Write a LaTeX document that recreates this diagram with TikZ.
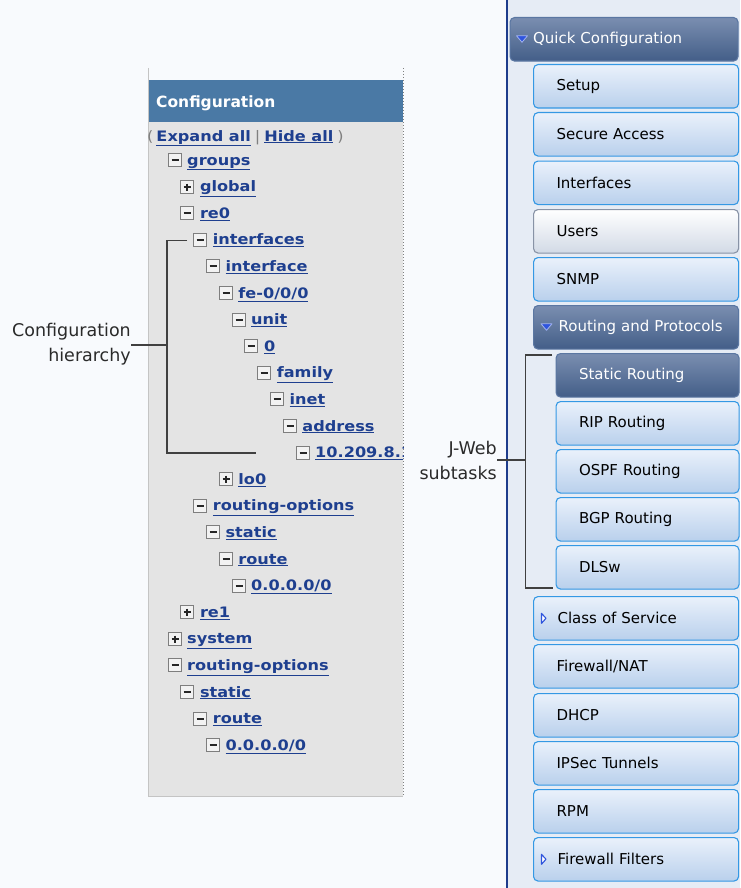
\documentclass[tikz,border=0pt]{standalone}
\usepackage{fontspec}
\setmainfont{DejaVu Sans}
\newfontfamily\treefont[FakeStretch=1.12]{DejaVu Sans}
\usetikzlibrary{calc}
\definecolor{pagebg}{HTML}{F8FAFD}
\definecolor{rightbg}{HTML}{E6ECF5}
\definecolor{navline}{HTML}{1E3C8C}
\definecolor{panelbg}{HTML}{E4E4E4}
\definecolor{panelline}{HTML}{C4C4C4}
\definecolor{headbg}{HTML}{4A79A5}
\definecolor{linkblue}{HTML}{1E3F8F}
\definecolor{icoedge}{HTML}{7E7E7E}
\definecolor{icofill}{HTML}{F2F2F2}
\definecolor{ltop}{HTML}{EAF1FB}
\definecolor{lbot}{HTML}{B9D0EC}
\definecolor{ledge}{HTML}{3498E4}
\definecolor{dtop}{HTML}{7A8EB0}
\definecolor{dbot}{HTML}{435E88}
\definecolor{dedge}{HTML}{5B77A2}
\definecolor{ubot}{HTML}{D2DAE6}
\definecolor{uedge}{HTML}{8893A6}
\definecolor{brk}{HTML}{404040}
\definecolor{lbltext}{HTML}{2A2A2A}
\definecolor{tri}{HTML}{2F55DD}
\newcommand{\btnfont}{\fontsize{15}{18}\selectfont\hyphenpenalty=10000 }
\newcommand{\lblfont}{\fontsize{17.5}{25}\selectfont}
\newcommand{\tfont}{\treefont\bfseries\fontsize{14.4}{16}\selectfont}
\newlength{\btnpad}
\setlength{\btnpad}{23pt}
\begin{document}
\begin{tikzpicture}[x=1pt,y=-1pt,
  pad/.code={\setlength{\btnpad}{#1}},
  btn/.style={anchor=north west, rounded corners=4.5pt, line width=1.1pt,
    minimum height=43.5pt, inner xsep=0pt, inner ysep=0pt, align=left,
    font=\btnfont, text width=205pt,
    execute at begin node={\hspace*{\btnpad}}},
  wide/.style={text width=228pt},
  narrow/.style={text width=183pt},
  light/.style={btn, draw=ledge, top color=ltop, bottom color=lbot},
  dark/.style={btn, draw=dedge, top color=dtop, bottom color=dbot, text=white},
  plain/.style={btn, draw=uedge, top color=white, bottom color=ubot},
  icobase/.style={draw=icoedge, fill=icofill, line width=1pt, minimum size=12.5pt, inner sep=0pt},
  icom/.style={icobase, path picture={\draw[line width=1.7pt, black!85]
      (path picture bounding box.center) ++(-3.5,0) -- ++(7,0);}},
  icop/.style={icobase, path picture={\draw[line width=1.7pt, black!85]
      (path picture bounding box.center) ++(-3.5,0) -- ++(7,0)
      (path picture bounding box.center) ++(0,-3.5) -- ++(0,7);}},
  item/.style={anchor=base west, inner sep=0pt, text=linkblue, font=\tfont},
  lbl/.style={anchor=east, inner sep=0pt, align=right, text=lbltext, font=\lblfont},
  bracket/.style={draw=brk, line width=1.3pt},
  trifill/.style={fill=tri, draw=white!55!tri, line width=0.8pt, line join=round}
]
\useasboundingbox (0,0) rectangle (740,888);
% backgrounds
\fill[pagebg] (0,0) rectangle (740,888);
\fill[rightbg] (507,0) rectangle (740,888);
\draw[navline, line width=1.8pt] (507,0) -- (507,888);

% configuration panel
\fill[panelbg] (148,80) rectangle (403,796);
\fill[headbg] (148,80) rectangle (403,122);
\draw[panelline, line width=1pt] (148,68) -- (148,796) -- (403,796);
\draw[gray, line width=1pt, dotted] (403,68) -- (403,796);
\node[anchor=base west, inner sep=0pt, text=white, font=\bfseries\fontsize{15.5}{18}\selectfont] (head) at (156,107) {Configuration};

\begin{scope}
\clip (148,80) rectangle (403,796);
\node[anchor=base west, inner sep=0pt, text=linkblue, font=\tfont] (expand) at (147,141)
  {{\mdseries\color{gray}(}\hspace{3pt}\underline{Expand all}\hspace{4pt}{\mdseries\color{gray}|}\hspace{4pt}\underline{Hide all}\hspace{4pt}{\mdseries\color{gray})}};
\foreach \lv/\sg/\txt/\i in {0/icom/groups/0, 1/icop/global/1, 1/icom/re0/2,
  2/icom/interfaces/3, 3/icom/interface/4, 4/icom/{fe-0/0/0}/5, 5/icom/unit/6,
  6/icom/0/7, 7/icom/family/8, 8/icom/inet/9, 9/icom/address/10,
  10/icom/10.209.8.1/11, 4/icop/lo0/12, 2/icom/routing-options/13,
  3/icom/static/14, 4/icom/route/15, 5/icom/{0.0.0.0/0}/16, 1/icop/re1/17,
  0/icop/system/18, 0/icom/routing-options/19, 1/icom/static/20,
  2/icom/route/21, 3/icom/{0.0.0.0/0}/22}{
  \pgfmathsetmacro{\tx}{187+12.8*\lv}
  \pgfmathsetmacro{\ty}{160+26.6*\i}
  \pgfmathsetmacro{\ix}{round(\tx-12.5)}
  \pgfmathsetmacro{\iy}{round(\ty)}
  \node[\sg] (i\i) at (\ix,\iy) {};
  \node[item] (t\i) at (\tx,\ty+5) {\underline{\txt}};
}
\end{scope}

% quick configuration menu
\node[dark, wide] (qc) at (509.5,17) {Quick Configuration};
\node[light] (setup) at (533,64) {Setup};
\node[light] (secure) at (533,112) {Secure Access};
\node[light] (ifaces) at (533,160.5) {Interfaces};
\node[plain] (users) at (533,209) {Users};
\node[light] (snmp) at (533,257) {SNMP};
\node[dark, pad=25pt] (rap) at (533,305) {Routing and Protocols};
\node[dark, narrow] (static) at (555.5,353) {Static Routing};
\node[light, narrow] (rip) at (555.5,401) {RIP Routing};
\node[light, narrow] (ospf) at (555.5,449) {OSPF Routing};
\node[light, narrow] (bgp) at (555.5,497) {BGP Routing};
\node[light, narrow] (dlsw) at (555.5,545) {DLSw};
\node[light, pad=24pt] (cos) at (533,596) {Class of Service};
\node[light] (fwnat) at (533,644) {Firewall/NAT};
\node[light] (dhcp) at (533,693) {DHCP};
\node[light] (ipsec) at (533,741) {IPSec Tunnels};
\node[light] (rpm) at (533,789) {RPM};
\node[light, pad=24pt] (ff) at (533,837) {Firewall Filters};

% expander triangles
\draw[trifill] ($(qc.west)+(7,-3.5)$) -- ++(11,0) -- ++(-5.5,6.5) -- cycle;
\draw[trifill] ($(rap.west)+(8,-3.5)$) -- ++(11,0) -- ++(-5.5,6.5) -- cycle;
\draw[draw=tri, fill=white, line width=1.1pt, line join=round] ($(cos.west)+(8.5,-5)$) -- ++(4.5,5) -- ++(-4.5,5) -- cycle;
\draw[draw=tri, fill=white, line width=1.1pt, line join=round] ($(ff.west)+(8.5,-5)$) -- ++(4.5,5) -- ++(-4.5,5) -- cycle;

% labels and brackets
\node[lbl] (cfglbl) at (131,344) {Configuration\\hierarchy};
\coordinate (cTopEnd) at (187,240.5);
\coordinate (cTop) at (167,240.5);
\coordinate (cMid) at (167,345);
\coordinate (cBot) at (167,453);
\coordinate (cBotEnd) at (256,453);
\draw[bracket] (cTopEnd) -- (cTop) -- (cBot) -- (cBotEnd);
\draw[bracket] (cfglbl.east |- cMid) -- (cMid);

\node[lbl] (jweb) at (497,460) {J-Web\\subtasks};
\coordinate (jTopEnd) at (552,355);
\coordinate (jTop) at (525.5,355);
\coordinate (jMid) at (525.5,460);
\coordinate (jBot) at (525.5,588);
\coordinate (jBotEnd) at (553,588);
\draw[bracket] (jTopEnd) -- (jTop) -- (jBot) -- (jBotEnd);
\draw[bracket] (jweb.east |- jMid) -- (jMid);
\end{tikzpicture}
\end{document}
